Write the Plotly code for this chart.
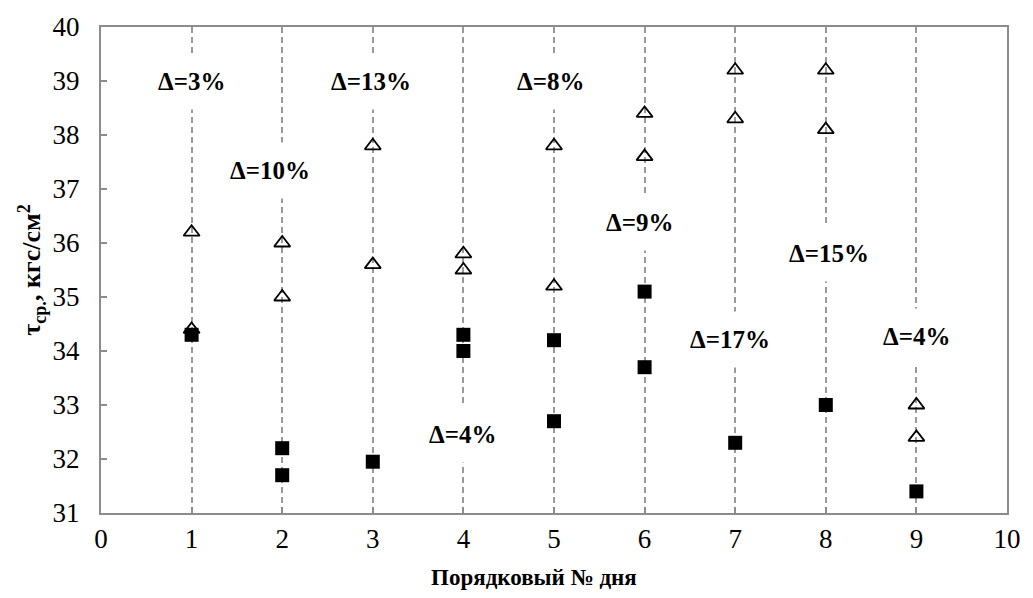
import plotly.graph_objects as go

tri_x = [1, 1, 2, 2, 3, 3, 4, 4, 5, 5, 6, 6, 7, 7, 8, 8, 9, 9]
tri_y = [36.2, 34.4, 36.0, 35.0, 37.8, 35.6, 35.8, 35.5, 37.8, 35.2,
         38.4, 37.6, 39.2, 38.3, 39.2, 38.1, 33.0, 32.4]
sq_x = [1, 2, 2, 3, 4, 4, 5, 5, 6, 6, 7, 8, 9]
sq_y = [34.3, 32.2, 31.7, 31.95, 34.3, 34.0, 34.2, 32.7, 35.1, 33.7, 32.3, 33.0, 31.4]

lab_x = [1.0, 1.86, 2.98, 3.99, 4.96, 5.94, 6.94, 8.04, 9.0]
lab_y = [39.0, 37.35, 39.0, 32.45, 39.0, 36.38, 34.22, 35.8, 34.27]
lab_t = ["Δ=3%", "Δ=10%", "Δ=13%", "Δ=4%", "Δ=8%", "Δ=9%", "Δ=17%", "Δ=15%", "Δ=4%"]

x_ticks = list(range(0, 11))
y_ticks = list(range(31, 41))

x_title = "Порядковый № дня"
y_title = "τ<sub>ср.</sub>, кгс/см<sup>2</sup>"

font = "Liberation Serif, Times New Roman, serif"

fig = go.Figure()
fig.add_trace(go.Scatter(x=tri_x, y=tri_y, mode="markers",
                         marker=dict(symbol="triangle-up-open", size=14, color="black",
                                     line=dict(width=1.8, color="black")),
                         showlegend=False))
fig.add_trace(go.Scatter(x=sq_x, y=sq_y, mode="markers",
                         marker=dict(symbol="square", size=14, color="black"),
                         showlegend=False))

for x, y, t in zip(lab_x, lab_y, lab_t):
    fig.add_annotation(x=x, y=y, text="<b>" + t + "</b>", showarrow=False,
                       font=dict(family=font, size=25, color="black"),
                       bgcolor="white", borderpad=14)

fig.add_annotation(x=0.4777, y=-0.1336, xref="paper", yref="paper",
                   text="<b>" + x_title + "</b>", showarrow=False,
                   xanchor="center", yanchor="middle",
                   font=dict(family=font, size=23, color="black"))

fig.update_xaxes(range=[0, 10], tickvals=x_ticks, showgrid=True,
                 gridcolor="#9a9a9a", griddash="6px,4px", gridwidth=2,
                 zeroline=False, showline=True, linecolor="#8c8c8c", linewidth=2,
                 mirror=True, ticks="inside", ticklen=6, tickcolor="#8c8c8c", tickwidth=1.5,
                 ticklabelstandoff=1,
                 tickfont=dict(family=font, size=27, color="black"))
fig.update_yaxes(range=[31, 40], tickvals=y_ticks, showgrid=False,
                 zeroline=False, showline=True, linecolor="#8c8c8c", linewidth=2,
                 mirror=True, ticks="inside", ticklen=6, tickcolor="#8c8c8c", tickwidth=1.5,
                 ticklabelstandoff=14,
                 tickfont=dict(family=font, size=27, color="black"),
                 title=dict(text="<b>" + y_title + "</b>", standoff=4,
                            font=dict(family=font, size=26, color="black")))

fig.update_layout(width=1033, height=598, margin=dict(l=101, r=15, t=19, b=85),
                  plot_bgcolor="white", paper_bgcolor="white")

fig.write_html("out.html")
